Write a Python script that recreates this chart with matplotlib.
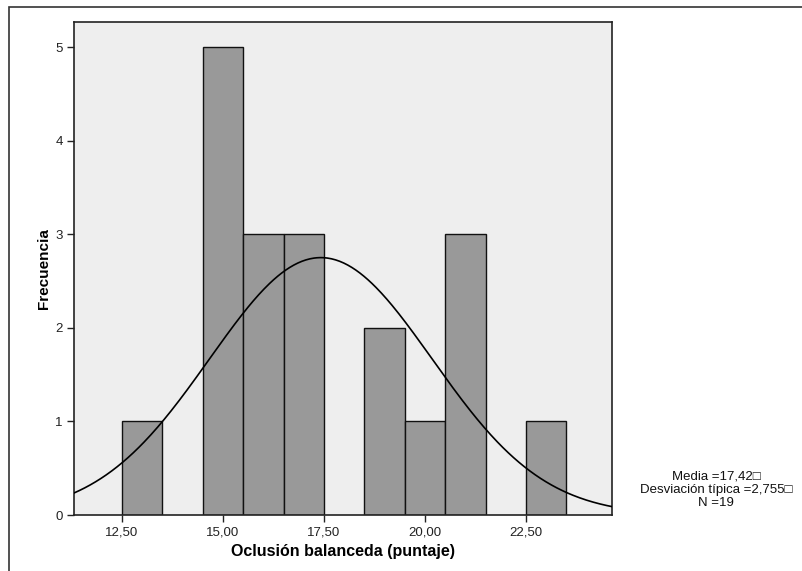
import numpy as np
import matplotlib.pyplot as plt
from matplotlib.patches import Rectangle

plt.rcParams['font.family'] = ['Liberation Sans', 'DejaVu Sans']

# puntajes (centro de cada barra) y frecuencias
puntaje = [13, 15, 16, 17, 19, 20, 21, 23]
frecuencia = [1, 5, 3, 3, 2, 1, 3, 1]
media = 17.42
desviacion = 2.755
n = 19
xticks = [12.5, 15.0, 17.5, 20.0, 22.5]
xtick_labels = ['12,50', '15,00', '17,50', '20,00', '22,50']
yticks = [0, 1, 2, 3, 4, 5]

fig = plt.figure(figsize=(8.03, 5.71), dpi=100)
ax = fig.add_axes([74 / 803, 1 - 515 / 571, (612 - 74) / 803, (515 - 22) / 571])

# marco exterior
fig.patches.append(Rectangle((9 / 803, -0.1), 1.2, 1 - 7 / 571 + 0.1,
                             transform=fig.transFigure, fill=False,
                             edgecolor='#333333', linewidth=1.2))

ax.set_facecolor('#eeeeee')
ax.bar(puntaje, frecuencia, width=1.0, color='#999999', edgecolor='#111111',
       linewidth=1.0, zorder=2)

# curva normal
xs = np.linspace(11.31, 24.63, 400)
ys = n * 1.0 / (desviacion * np.sqrt(2 * np.pi)) * np.exp(-0.5 * ((xs - media) / desviacion) ** 2)
ax.plot(xs, ys, color='black', linewidth=1.2, zorder=3)

ax.set_xlim(11.31, 24.63)
ax.set_ylim(0, 5.27)
ax.set_xticks(xticks)
ax.set_xticklabels(xtick_labels)
ax.set_yticks(yticks)
ax.tick_params(axis='both', direction='out', length=5, width=1, labelsize=9.5,
               color='#222222', labelcolor='#222222', pad=3)
for s in ax.spines.values():
    s.set_color('#222222')
    s.set_linewidth(1.2)

ax.set_xlabel('Oclusión balanceda (puntaje)', fontsize=11.5, fontweight='bold', labelpad=4)
ax.set_ylabel('Frecuencia', fontsize=11, fontweight='bold', labelpad=3)

fig.text(716 / 803, 1 - 490 / 571,
         'Media =17,42\u25a1\nDesviación típica =2,755\u25a1\nN =19',
         ha='center', va='center', fontsize=9.5, linespacing=1.12, color='#111111')

fig.savefig('out.png', dpi=100)
